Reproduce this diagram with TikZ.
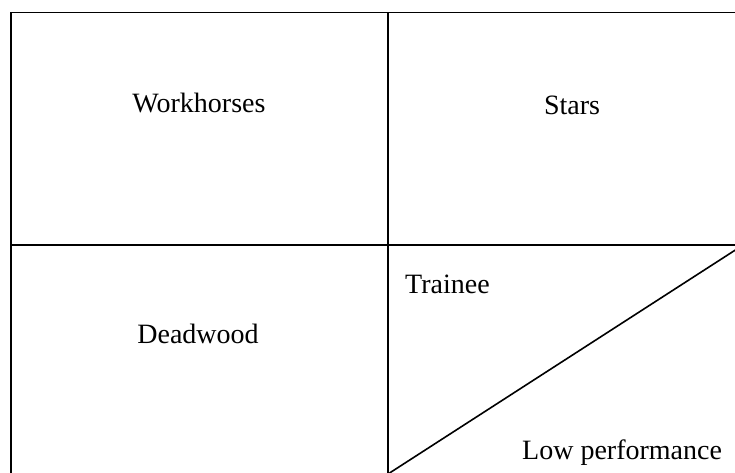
\documentclass[tikz,border=0pt]{standalone}
\usepackage{fontspec}
\setmainfont{Liberation Serif}
\begin{document}
\begin{tikzpicture}[x=1pt,y=1pt,
  gridline/.style={line width=1.9pt},
  lbl/.style={font=\fontsize{28}{32}\selectfont, inner sep=0pt, anchor=base}]
\useasboundingbox (0,0) rectangle (735,-472);
\clip (0,0) rectangle (735,-472);
\coordinate (tl) at (11,-12.5);
\coordinate (br) at (760,-476);
\coordinate (tm) at (388,-12.5);
\coordinate (bm) at (388,-476);
\coordinate (ml) at (11,-245);
\coordinate (mr) at (760,-245);
\coordinate (dstart) at (388,-474);
\coordinate (dend) at (740,-247);
\draw[gridline] (tl) rectangle (br);
\draw[gridline] (tm) -- (bm);
\draw[gridline] (ml) -- (mr);
\draw[line width=1.6pt] (dstart) -- (dend);
\node[lbl] (w) at (199,-112) {Workhorses};
\node[lbl] (s) at (572,-114) {Stars};
\node[lbl] (d) at (198,-343) {Deadwood};
\node[lbl, anchor=base west] (t) at (405,-293) {Trainee};
\node[lbl, anchor=base west] (l) at (522,-459) {Low performance};
\end{tikzpicture}
\end{document}
